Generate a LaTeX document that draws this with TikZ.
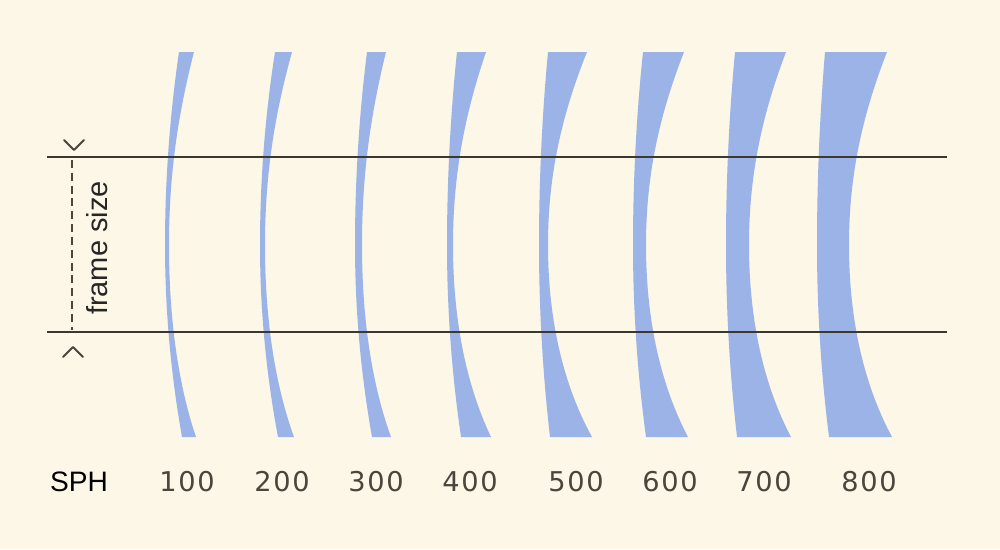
\documentclass[tikz,border=0pt]{standalone}
\usepackage{fontspec}
\setmainfont{Liberation Sans}
\newfontfamily\numfont[LetterSpace=6]{DejaVu Sans}
\definecolor{paper}{HTML}{FCF7E6}
\definecolor{lensblue}{HTML}{9BB3E6}
\definecolor{ink}{HTML}{4A453D}

\begin{document}
\begin{tikzpicture}[x=0.02cm, y=-0.02cm,
    rule/.style={draw=ink!80!black, line width=0.8pt},
    chev/.style={draw=ink, line width=1.1pt, line cap=round, line join=round},
    numlabel/.style={font=\numfont\fontsize{15.5}{17}\selectfont, text=ink, inner sep=0pt},
    sidelabel/.style={font=\fontsize{16.5}{18}\selectfont, text=black!85, inner sep=0pt}]
    \fill[paper] (0,0) rectangle (1000,549);
    \useasboundingbox (0,0) rectangle (1000,549);
    % lenses: top left/right, middle left/right, bottom left/right
    \foreach \tl/\tr/\ml/\mr/\bl/\br in {179/194/165/169/182/196, 275/292/260/265/278/294,
        367/386/355/362/372/391, 457/486/447/453/461/491, 548/587/539/548/550/592,
        643/684/633/646/646/688, 735/786/726/749/737/791, 825/887/817/849/829/892}
      \fill[lensblue] (\tl,52) -- (\tr,52)
        .. controls ({\mr+0.3*(\tr-\mr)},120) and (\mr,180) .. (\mr,245)
        .. controls (\mr,320) and ({\mr+0.35*(\br-\mr)},385) .. (\br,437) -- (\bl,437)
        .. controls ({\bl+2/3*(\ml-\bl)},373) and (\ml,309) .. (\ml,245)
        .. controls (\ml,181) and ({\tl+2/3*(\ml-\tl)},116) .. (\tl,52) -- cycle;
    % frame lines
    \coordinate (top-l) at (47,157);
    \coordinate (top-r) at (947,157);
    \coordinate (bot-l) at (47,332);
    \coordinate (bot-r) at (947,332);
    \draw[rule] (top-l) -- (top-r);
    \draw[rule] (bot-l) -- (bot-r);
    % frame size marker
    \coordinate (dash-a) at (72,160);
    \coordinate (dash-b) at (72,330);
    \draw[ink, line width=0.6pt, dash pattern=on 4.5pt off 2.8pt] (dash-a) -- (dash-b);
    \draw[chev] (64,140) -- (74,150) -- (84,140);
    \draw[chev] (63,357) -- (73,347) -- (83,357);
    \node[sidelabel, rotate=90] (frame) at (97,248) {frame size};
    % labels
    \node[sidelabel, font=\fontsize{16}{18}\selectfont, text=black] (sph) at (79,482) {SPH};
    \foreach \x/\v in {187/100, 282/200, 376/300, 470/400, 576/500, 670/600, 764/700, 869/800}
      \node[numlabel] (n\v) at (\x,482) {\v};
\end{tikzpicture}
\end{document}
